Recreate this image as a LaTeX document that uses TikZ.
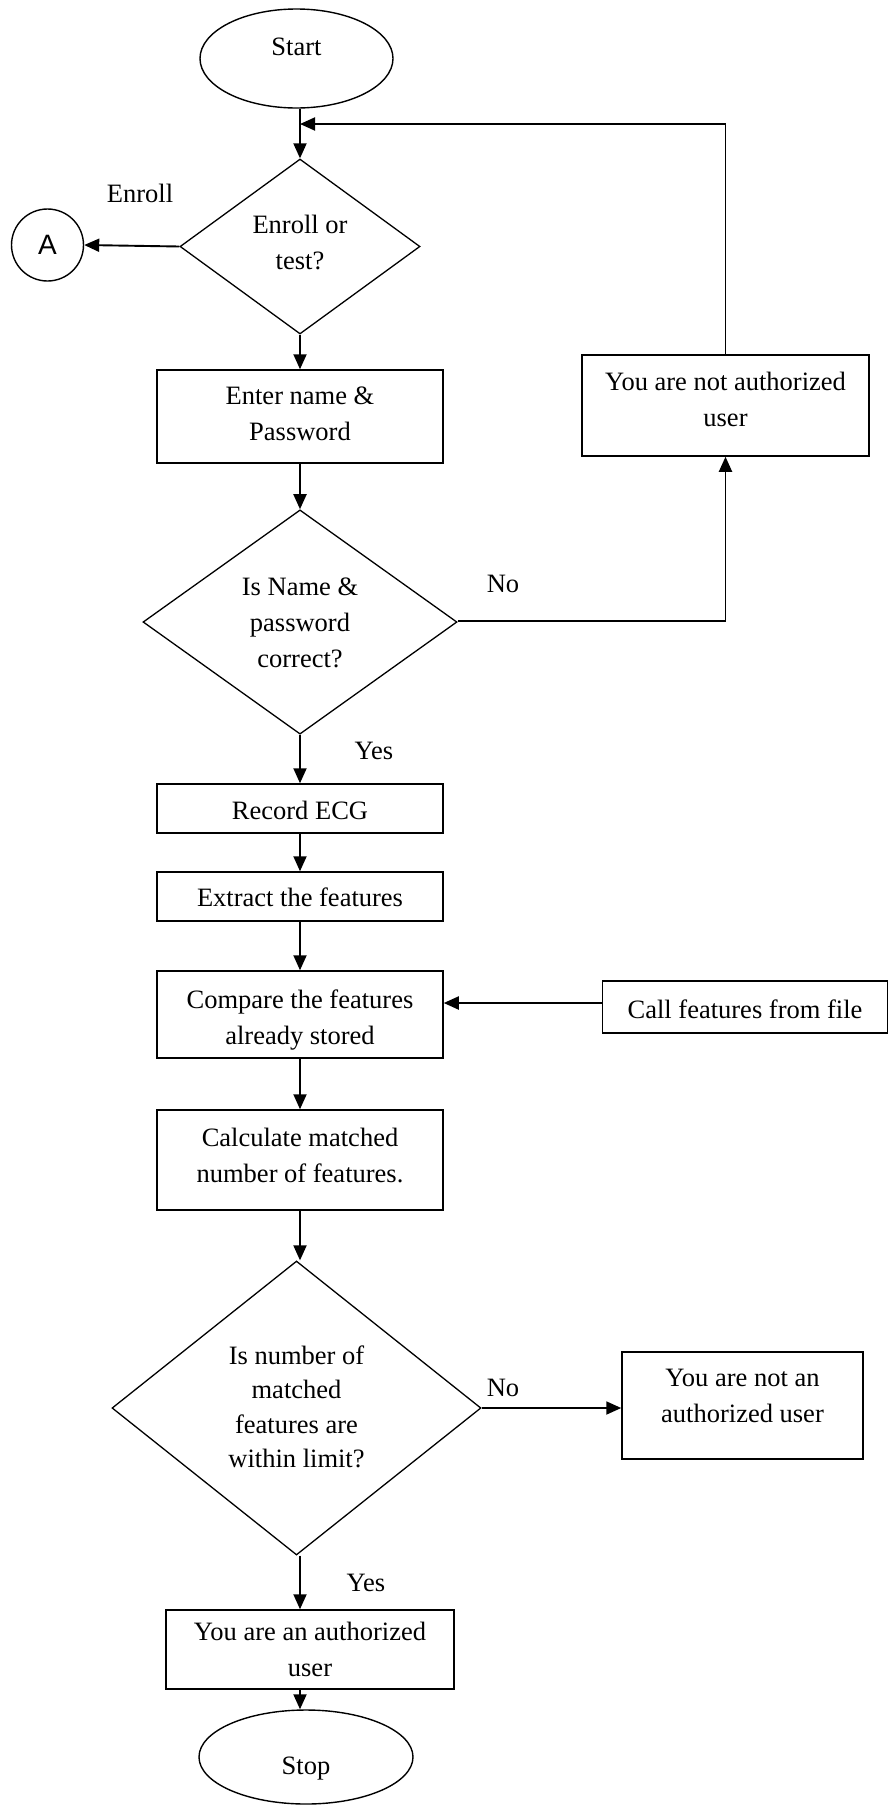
\documentclass[tikz,border=0pt]{standalone}
\usepackage{fontspec}
\setmainfont{Liberation Serif}
\newfontfamily\connfont{Liberation Sans}
\usetikzlibrary{shapes.geometric,arrows.meta}
% text block moved vertically inside its node, keeping its natural size
\newcommand{\shiftedlines}[2]{\raisebox{#1}[\height][\depth]{\begin{tabular}{@{}c@{}}#2\end{tabular}}}
\begin{document}
\begin{tikzpicture}[x=1pt,y=-1pt,
  every node/.style={font=\fontsize{26.5}{36}\selectfont, align=center, inner sep=0pt},
  proc/.style={draw, rectangle, line width=1.5pt},
  decision/.style={draw, diamond, line width=1.3pt},
  term/.style={draw, ellipse, line width=1.4pt},
  conn/.style={line width=1.9pt, -{Triangle[length=15pt,width=13pt]}},
  tag/.style={}
]
\useasboundingbox (0,0) rectangle (889,1805);

% terminals
\node[term, minimum width=193pt, minimum height=99pt] (start) at (296.5,58.5) {\shiftedlines{10pt}{Start}};
\node[term, minimum width=214pt, minimum height=94pt] (stop) at (306,1757) {\shiftedlines{-10pt}{Stop}};

% connector to the enrolment branch
\node[draw, circle, line width=1.4pt, minimum size=72pt, font=\connfont\fontsize{28}{30}\selectfont] (A) at (47.5,245) {A};

% decisions
\node[decision, minimum width=240pt, minimum height=175pt] (d1) at (300,246.5) {\shiftedlines{2pt}{Enroll or\\test?}};
\node[decision, minimum width=314pt, minimum height=224pt] (d2) at (300,622) {\shiftedlines{-2pt}{Is Name \&\\password\\correct?}};
\node[decision, minimum width=369pt, minimum height=294pt, font=\fontsize{26.5}{34.5}\selectfont] (d3) at (296.5,1408) {\shiftedlines{-1pt}{Is number of\\matched\\features are\\within limit?}};

% process boxes
\node[proc, minimum width=286pt, minimum height=93pt] (enter) at (300,416.5) {\shiftedlines{1pt}{Enter name \&\\Password}};
\node[proc, minimum width=287pt, minimum height=101pt] (notauth1) at (725.5,405.5) {\shiftedlines{4pt}{You are not authorized\\user}};
\node[proc, minimum width=286pt, minimum height=49pt] (record) at (300,808.5) {\shiftedlines{-4pt}{Record ECG}};
\node[proc, minimum width=286pt, minimum height=49pt] (extract) at (300,896.5) {\shiftedlines{-3pt}{Extract the features}};
\node[proc, minimum width=286pt, minimum height=87pt] (compare) at (300,1014.5) {\shiftedlines{-5pt}{Compare the features\\already stored}};
\node[proc, minimum width=285pt, minimum height=52pt] (callf) at (745,1007) {\shiftedlines{-4pt}{Call features from file}};
\node[proc, minimum width=286pt, minimum height=100pt] (calc) at (300,1160) {\shiftedlines{3pt}{Calculate matched\\number of features.}};
\node[proc, minimum width=241pt, minimum height=107pt] (notauth2) at (742.5,1405.5) {\shiftedlines{8pt}{You are not an\\authorized user}};
\node[proc, minimum width=288pt, minimum height=79pt] (auth) at (310,1649.5) {You are an authorized\\user};

% branch labels
\node[tag] (lenroll) at (140,193) {Enroll};
\node[tag] (lno1) at (503,584) {No};
\node[tag] (lyes1) at (374,751) {Yes};
\node[tag] (lno2) at (503,1388) {No};
\node[tag] (lyes2) at (366,1583) {Yes};

% flow
\coordinate (join) at (300,124);
\draw[conn] (d1.north |- start.south) -- (d1.north);
\draw[conn] (notauth1.north) |- (join);
\draw[conn] (d1.west) -- (A.east);
\draw[conn] (d1.south) -- (enter.north);
\draw[conn] (enter.south) -- (d2.north);
\draw[conn] ([yshift=1pt]d2.east) -| (notauth1.south);
\draw[conn] (d2.south) -- (record.north);
\draw[conn] (record.south) -- (extract.north);
\draw[conn] (extract.south) -- (compare.north);
\draw[conn] ([yshift=4pt]callf.west) -- ([yshift=4pt]callf.west -| compare.east);
\draw[conn] (compare.south) -- (calc.north);
\draw[conn] (calc.south) -- (d3.north -| calc.south);
\draw[conn] (d3.east) -- (d3.east -| notauth2.west);
\draw[conn] (d3.south -| calc.south) -- (calc.south |- auth.north);
\draw[conn] (calc.south |- auth.south) -- (calc.south |- stop.north);
\end{tikzpicture}
\end{document}
